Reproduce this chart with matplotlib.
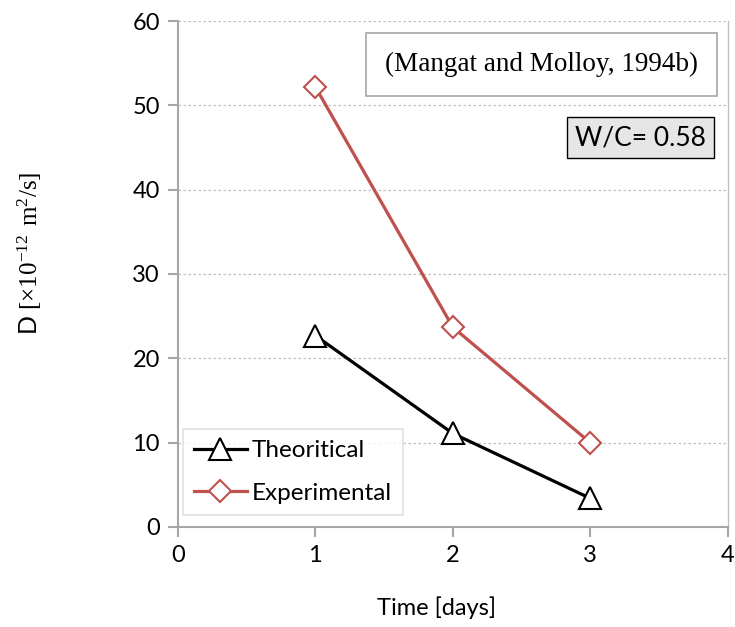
import matplotlib.pyplot as plt

# data
time_days = [1, 2, 3]
d_theoritical = [22.7, 11.1, 3.4]
d_experimental = [52.2, 23.7, 10.0]

plt.rcParams['font.family'] = ['Lato', 'DejaVu Sans']
plt.rcParams['mathtext.fontset'] = 'custom'
plt.rcParams['mathtext.rm'] = 'Liberation Serif'

fig = plt.figure(figsize=(7.35, 6.27), dpi=100)
ax = fig.add_axes([0.242, 0.1595, 0.748, 0.807])

ax.plot(time_days, d_theoritical, color='black', lw=2.3, marker='^', ms=16,
        mfc='white', mec='black', mew=1.5, label='Theoritical', zorder=3)
ax.plot(time_days, d_experimental, color='#c0504d', lw=2.3, marker='D', ms=11,
        mfc='white', mec='#c0504d', mew=1.5, label='Experimental', zorder=3)

ax.set_xlim(0, 4)
ax.set_ylim(0, 60)
ax.set_xticks([0, 1, 2, 3, 4])
ax.set_yticks(range(0, 61, 10))
ax.yaxis.grid(True, linestyle=(0, (2, 2)), color='#bfbfbf', lw=0.9)
ax.set_axisbelow(True)

for s in ['left', 'bottom']:
    ax.spines[s].set_color('#a6a6a6')
    ax.spines[s].set_linewidth(1.5)
ax.spines['right'].set_color('#bfbfbf')
ax.spines['right'].set_linewidth(1.0)
ax.spines['top'].set_visible(False)
ax.tick_params(axis='both', direction='out', length=7, width=1.5, color='#a6a6a6',
               labelsize=17, pad=6)

ax.set_xlabel('Time [days]', fontsize=17)
ax.xaxis.set_label_coords(0.47, -0.138)
ax.set_ylabel(r'D $\mathrm{[\times10^{-12}\ m^2/s]}$', fontsize=18)
ax.yaxis.set_label_coords(-0.243, 0.54)

leg = ax.legend(loc='lower left', bbox_to_anchor=(0.009, 0.024), fontsize=17.5,
                frameon=True, fancybox=False, handlelength=2.2, borderpad=0.45,
                labelspacing=0.9, handletextpad=0.2, borderaxespad=0)
leg.get_frame().set_edgecolor('#d9d9d9')
leg.get_frame().set_linewidth(1.2)

ax.text(0.662, 0.914, '(Mangat and Molloy, 1994b)', transform=ax.transAxes,
        ha='center', va='center', fontsize=19.5, family='Liberation Serif',
        bbox=dict(boxstyle='square,pad=0.7', fc='white', ec='#a6a6a6', lw=1.2))
ax.text(0.841, 0.769, 'W/C= 0.58', transform=ax.transAxes, ha='center', va='center',
        fontsize=19, family=['Lato', 'DejaVu Sans'],
        bbox=dict(boxstyle='square,pad=0.3', fc='#e6e6e6', ec='black', lw=1.0))

fig.savefig('out.png', dpi=100)
